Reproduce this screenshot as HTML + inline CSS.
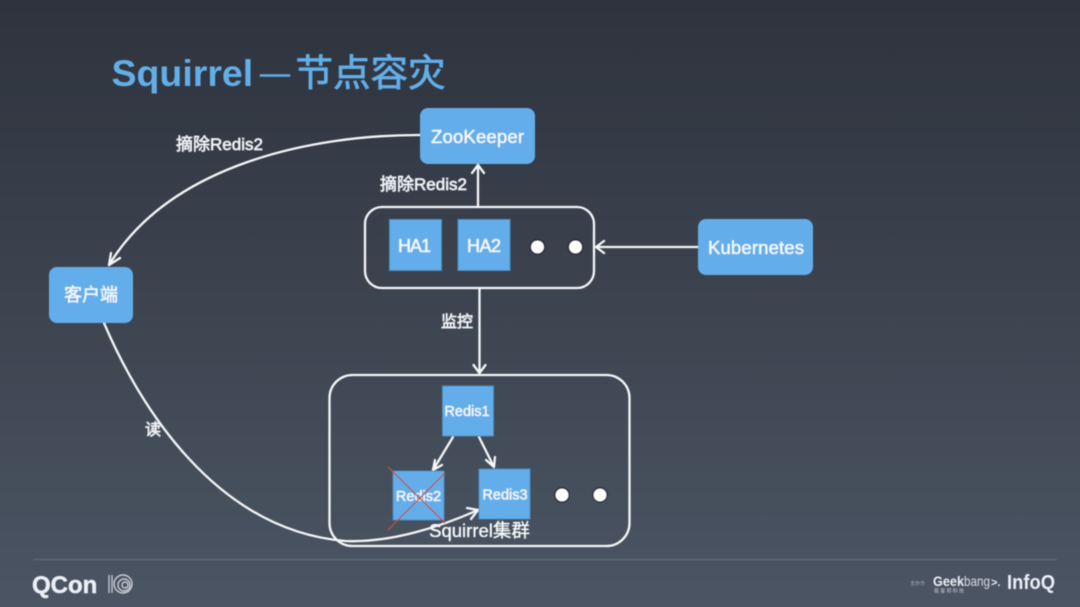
<!DOCTYPE html>
<html><head><meta charset="utf-8">
<style>
html,body{margin:0;padding:0;width:1080px;height:607px;overflow:hidden}
body{background:linear-gradient(180deg,#2e333d 0%,#4b5563 100%)}
svg{display:block;position:absolute;left:0;top:0}
text{font-family:"Liberation Sans","Noto Sans CJK SC",sans-serif;fill:#f4f6f8}
.n{fill:#f7f9fb;stroke:#f7f9fb;stroke-width:.35px}
.l{fill:#eef1f4;stroke:#eef1f4;stroke-width:.7px}
</style></head><body>
<svg width="1080" height="607" viewBox="0 0 1080 607" xmlns="http://www.w3.org/2000/svg">
<defs><filter id="b" x="-5%" y="-5%" width="110%" height="110%"><feGaussianBlur stdDeviation="0.4"/></filter>
<filter id="b2" x="-5%" y="-5%" width="110%" height="110%"><feGaussianBlur stdDeviation="0.55"/></filter></defs>
<g filter="url(#b)">
<text x="111.500" y="86" font-size="37.500" font-weight="700" style="fill:#62aee9">Squirrel</text>
<text x="260" y="83" font-size="30" style="fill:#62aee9;stroke:#62aee9;stroke-width:.4px">—</text>
<text x="295.500" y="86" font-size="37.500" style="fill:#62aee9;stroke:#62aee9;stroke-width:.8px">节点容灾</text>

<g fill="none" stroke="#f4f6f8" stroke-width="2.300" stroke-linecap="round">
<path d="M420 135 C310 135 170 165 109 265"/>
<path d="M109 265 L111 253 M109 265 L120 258"/>
<path d="M478 207 V165 M478 165 L472 173 M478 165 L484 173"/>
<rect x="365" y="207" width="229" height="81" rx="17"/>
<path d="M698 247 H596 M596 247 L604 241 M596 247 L604 253"/>
<path d="M479.500 288 V373 M479.500 373 L473.500 365 M479.500 373 L485.500 365"/>
<rect x="329.500" y="375" width="300" height="171" rx="23"/>
<path d="M453 437 L433 470 M433 470 L435 460 M433 470 L442 465"/>
<path d="M479 437 L494 467 M494 467 L486 460 M494 467 L495 457"/>
<path d="M104 323 C139 405 215 530 345 541 C390 543 440 527 478 510"/>
<path d="M478 510 L467 508 M478 510 L471 519"/>
</g>

<rect x="420" y="108" width="115" height="56" rx="8" fill="#63aeea"/>
<rect x="698" y="219" width="115" height="56" rx="8" fill="#63aeea"/>
<rect x="49" y="267" width="84" height="56" rx="8" fill="#63aeea"/>
<g fill="#63aeea" stroke="#4a8cc0" stroke-width="1">
<rect x="389.500" y="219.500" width="52" height="51"/>
<rect x="458" y="219.500" width="52" height="51"/>
<rect x="442.500" y="386" width="51" height="50"/>
<rect x="393" y="471" width="51" height="49"/>
<rect x="479" y="469" width="51" height="50"/>
</g>

<g fill="#fff" stroke="#1c2027" stroke-width="1.200">
<circle cx="537.500" cy="247" r="7"/><circle cx="575.500" cy="247" r="7"/>
<circle cx="562" cy="495" r="7"/><circle cx="600" cy="495" r="7"/>
</g>

<text class="n" x="477.500" y="143" font-size="18.500" text-anchor="middle" textLength="93">ZooKeeper</text>
<text class="n" x="756" y="254" font-size="18.500" text-anchor="middle" textLength="96">Kubernetes</text>
<text class="n" x="91" y="301" font-size="18" text-anchor="middle">客户端</text>
<text class="n" x="414.500" y="252" font-size="18" text-anchor="middle" textLength="33">HA1</text>
<text class="n" x="484" y="252" font-size="18" text-anchor="middle" textLength="34">HA2</text>
<text class="n" x="467" y="416" font-size="14.500" text-anchor="middle">Redis1</text>
<text class="n" x="418.500" y="501" font-size="14.500" text-anchor="middle">Redis2</text>
<text class="n" x="505" y="499.500" font-size="14.500" text-anchor="middle">Redis3</text>
<text class="n" x="479.500" y="537" font-size="18.500" text-anchor="middle">Squirrel集群</text>
<text class="l" x="219.500" y="150" font-size="17" text-anchor="middle">摘除Redis2</text>
<text class="l" x="423.500" y="190" font-size="17" text-anchor="middle">摘除Redis2</text>
<text class="l" x="457" y="327" font-size="16" text-anchor="middle">监控</text>
<text class="l" x="153" y="435" font-size="16" text-anchor="middle">读</text>

<path d="M388 467 L445 523 M445 473 L388 530" stroke="#b5533f" stroke-width="1.300" fill="none"/>

<path d="M33 559.500 H1057" stroke="#5d6774" stroke-width="1.500"/>
</g>
<g filter="url(#b2)">
<text x="32" y="593" font-size="24" font-weight="700" style="fill:#eaf0f5;stroke:#eaf0f5;stroke-width:.5px">QCon</text>
<path d="M109 575 V593 M112 575 V593" stroke="#c8ced4" stroke-width="1.300"/>
<g fill="none" stroke="#c8ced4" stroke-width="1.400"><circle cx="123" cy="584" r="9"/><circle cx="124" cy="585" r="6"/><circle cx="125" cy="585" r="3"/></g>
<text x="910" y="585" font-size="5" style="fill:#aeb4bb">主办方</text>
<text x="933" y="586" font-size="14" font-weight="700" textLength="31" lengthAdjust="spacingAndGlyphs" style="fill:#eaf0f5">Geek</text>
<text x="964" y="586" font-size="14" textLength="26" lengthAdjust="spacingAndGlyphs" style="fill:#d8dde2">bang</text>
<text x="991" y="586" font-size="11" font-weight="700" style="fill:#eaf0f5">&gt;.</text>
<text x="934" y="592.500" font-size="5" style="fill:#c8ced4" textLength="30">极客邦科技</text>
<text x="1007" y="589" font-size="20" font-weight="700" textLength="48" lengthAdjust="spacingAndGlyphs" style="fill:#eaf0f5">InfoQ</text>
</g>
</svg>
</body></html>
